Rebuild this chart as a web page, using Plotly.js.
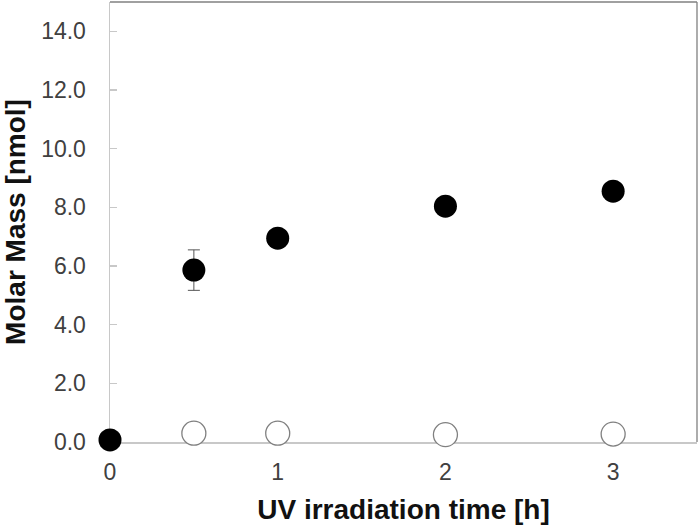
<!DOCTYPE html>
<html>
<head>
<meta charset="utf-8">
<script src="https://cdn.plot.ly/plotly-3.0.1.min.js"></script>
<style>html,body{margin:0;padding:0;background:#fff;}#chart{width:700px;height:531px;}</style>
</head>
<body>
<div id="chart"></div>
<script>
const timeFilled = [0, 0.5, 1, 2, 3];
const massFilled = [0.07, 5.86, 6.95, 8.04, 8.55];
const errFilled = [0, 0.69, 0, 0, 0];
const timeOpen = [0.5, 1, 2, 3];
const massOpen = [0.3, 0.3, 0.25, 0.27];
const xTicks = [0, 1, 2, 3];
const yTicks = [0, 2, 4, 6, 8, 10, 12, 14];

const traces = [
  {
    x: timeOpen, y: massOpen, type: 'scatter', mode: 'markers',
    marker: {size: 24, color: '#ffffff', line: {color: '#808080', width: 1.3}},
    cliponaxis: false, showlegend: false
  },
  {
    x: timeFilled, y: massFilled, type: 'scatter', mode: 'markers',
    marker: {size: 23, color: '#000000'},
    error_y: {type: 'data', array: errFilled, visible: true, color: '#555555', thickness: 1, width: 6},
    cliponaxis: false, showlegend: false
  }
];

const titleFont = {size: 28, color: '#111111', family: 'Liberation Sans, Arial, sans-serif', weight: 'bold'};

const layout = {
  width: 700, height: 531,
  margin: {l: 110, r: 3, t: 2, b: 89},
  paper_bgcolor: '#ffffff', plot_bgcolor: '#ffffff',
  font: {family: 'Liberation Sans, Arial, sans-serif', color: '#404040'},
  xaxis: {
    range: [0, 3.5], tickvals: xTicks, ticktext: xTicks.map(String),
    showgrid: false, zeroline: false, showline: true, linecolor: '#c8c8c8', linewidth: 1.5,
    ticks: '', tickfont: {size: 23, color: '#404040'}, ticklabelstandoff: 9,
    layer: 'below traces',
    title: {text: 'UV irradiation time [h]', font: titleFont, standoff: 15}
  },
  yaxis: {
    range: [0, 15], tickvals: yTicks, ticktext: yTicks.map(v => v.toFixed(1)),
    showgrid: false, zeroline: false, showline: true, linecolor: '#c8c8c8', linewidth: 1.5,
    ticks: 'inside', ticklen: 7, tickcolor: '#c8c8c8', tickwidth: 1.2,
    tickfont: {size: 23, color: '#404040'}, ticklabelstandoff: 18,
    layer: 'below traces',
    title: {text: 'Molar Mass [nmol]', font: titleFont, standoff: 8}
  },
  shapes: [
    {type: 'line', xref: 'paper', yref: 'paper', x0: 0, x1: 1, y0: 1, y1: 1, line: {color: '#808080', width: 1.3}},
    {type: 'line', xref: 'paper', yref: 'paper', x0: 1, x1: 1, y0: 0, y1: 1, line: {color: '#808080', width: 1.3}}
  ]
};

Plotly.newPlot('chart', traces, layout, {displayModeBar: false, staticPlot: true});
</script>
</body>
</html>
